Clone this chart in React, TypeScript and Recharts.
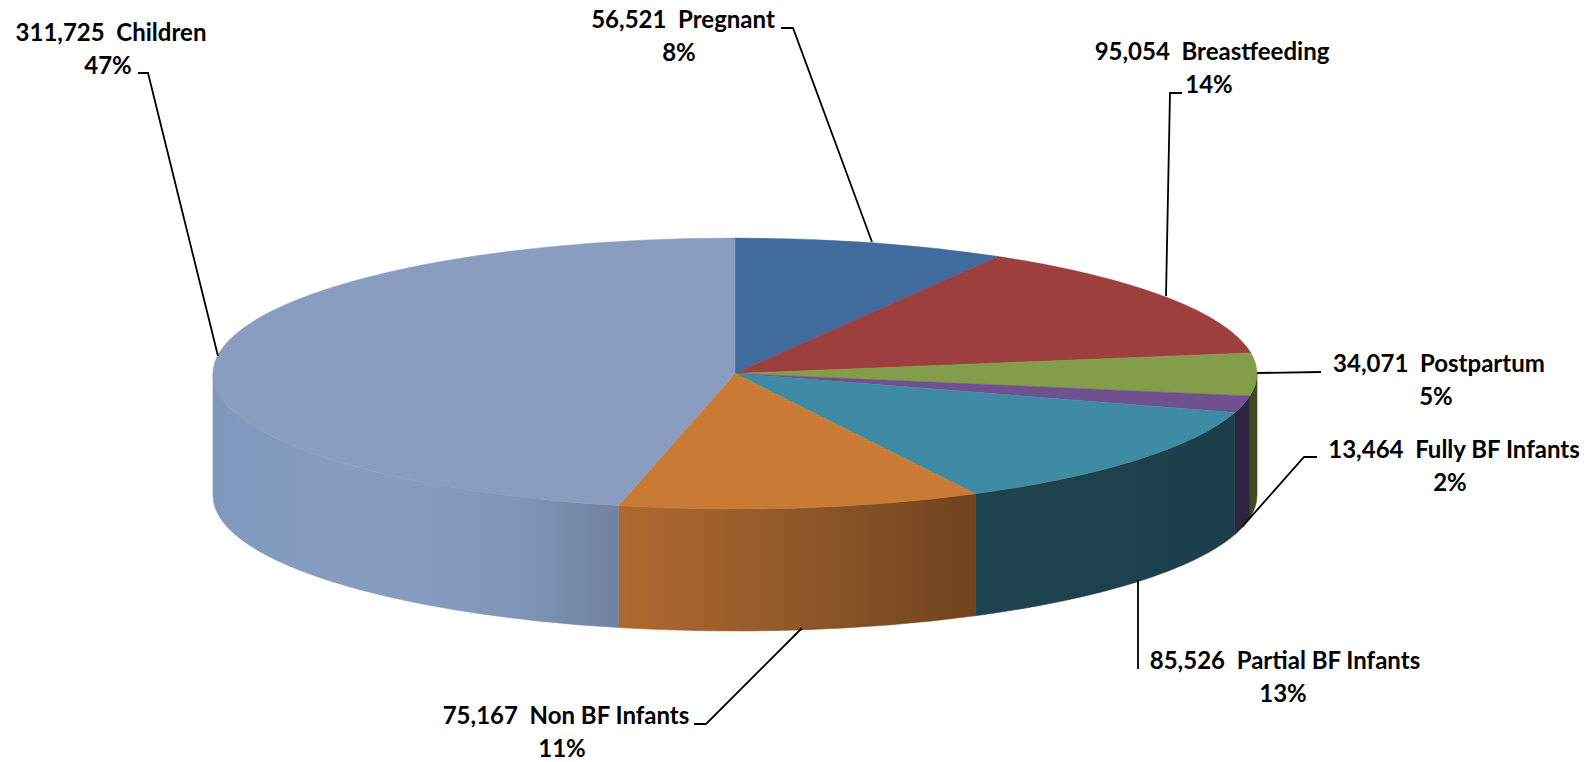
import { Pie, PieChart } from 'recharts';

const categories = ['Pregnant', 'Breastfeeding', 'Postpartum', 'Fully BF Infants', 'Partial BF Infants', 'Non BF Infants', 'Children'];
const participants = [56521, 95054, 34071, 13464, 85526, 75167, 311725];
// printed on the chart, Children is shown as 47%
const percentLabels = ['8%', '14%', '5%', '2%', '13%', '11%', '47%'];

const topColors = ['#416b9c', '#9c3f3e', '#839d4a', '#6f5190', '#3f8ba6', '#c97b36', '#8a9dc1'];
const wallStops = [
  ['#2b4768'],
  ['#682a29'],
  ['#3f4b20'],
  ['#2e2340'],
  ['#1e4450', '#1b3e4a'],
  ['#b0692f', '#8f5829', '#6f431c'],
  ['#7f98bc', '#869cc1', '#869cc1', '#8095b8', '#71829f'],
];

const chartData = categories.map((name, i) => ({ name, value: participants[i] }));

const WIDTH = 1594;
const HEIGHT = 762;
const CX = 735;
const CY = 373.5;
const RX = 522;
const RY = 135.5;
const DEPTH = 122;
const FONT = 'Lato, "Open Sans", sans-serif';

// label placement per slice: text centres, baselines and leader line points
const labelLayout = [
  { x1: 683, y1: 28, x2: 679, y2: 61, line: '781,28 793,28 872,242' },
  { x1: 1212, y1: 60, x2: 1209, y2: 93, line: '1182,93 1170,93 1166,296' },
  { x1: 1439, y1: 372, x2: 1436, y2: 405, line: '1321,372 1257,373' },
  { x1: 1454, y1: 458, x2: 1450, y2: 491, line: '1317,457 1304,457 1242,527' },
  { x1: 1285, y1: 669, x2: 1283, y2: 702, line: '1138,669 1138,580' },
  { x1: 566, y1: 724, x2: 562, y2: 757, line: '694,724 706,724 802,628' },
  { x1: 111, y1: 41, x2: 108, y2: 74, line: '138,73 148,73 218,356' },
];

const rad = (deg: number) => (deg * Math.PI) / 180;
const px = (deg: number) => CX + RX * Math.cos(rad(deg));
const py = (deg: number) => CY - RY * Math.sin(rad(deg));

// the flat top of a slice, squashed to an ellipse
const TopSlice = (props: any) => {
  const { startAngle, endAngle, index } = props;
  const large = Math.abs(startAngle - endAngle) > 180 ? 1 : 0;
  const d = `M${CX},${CY} L${px(startAngle)},${py(startAngle)} A${RX},${RY} 0 ${large} 1 ${px(endAngle)},${py(endAngle)} Z`;
  return <path d={d} fill={topColors[index]} stroke={topColors[index]} strokeWidth={0.5} />;
};

// the side wall, only the front half of the pie can be seen
const WallSlice = (props: any) => {
  const { startAngle, endAngle, index } = props;
  const from = Math.min(startAngle, 0);
  const to = Math.max(endAngle, -180);
  if (from <= to) return <g />;
  const id = `wall-${index}`;
  const stops = wallStops[index];
  const left = px(to);
  const right = px(from);
  const d =
    `M${right},${py(from)} A${RX},${RY} 0 0 1 ${left},${py(to)} ` +
    `L${left},${py(to) + DEPTH} A${RX},${RY} 0 0 0 ${right},${py(from) + DEPTH} Z`;
  return (
    <g>
      <linearGradient id={id} gradientUnits="userSpaceOnUse" x1={left} x2={right} y1={0} y2={0}>
        {stops.map((c, i) => (
          <stop key={i} offset={stops.length > 1 ? i / (stops.length - 1) : 0} stopColor={c} />
        ))}
      </linearGradient>
      <path d={d} fill={`url(#${id})`} stroke={`url(#${id})`} strokeWidth={0.6} />
    </g>
  );
};

const SliceLabel = (props: any) => {
  const { index } = props;
  const pos = labelLayout[index];
  const textStyle = { fontFamily: FONT, fontWeight: 700, fontSize: 24, fill: '#000', whiteSpace: 'pre' } as const;
  return (
    <g>
      <polyline points={pos.line} fill="none" stroke="#000" strokeWidth={1.8} />
      <text x={pos.x1} y={pos.y1} textAnchor="middle" style={textStyle}>
        {`${participants[index].toLocaleString('en-US')}  ${categories[index]}`}
      </text>
      <text x={pos.x2} y={pos.y2} textAnchor="middle" style={textStyle}>
        {percentLabels[index]}
      </text>
    </g>
  );
};

export default function App() {
  return (
    <div style={{ position: 'absolute', left: 0, top: 0, width: WIDTH, height: HEIGHT, background: '#fff' }}>
      <PieChart width={WIDTH} height={HEIGHT} margin={{ top: 0, right: 0, bottom: 0, left: 0 }}>
        <Pie
          data={chartData}
          dataKey="value"
          nameKey="name"
          cx={CX}
          cy={CY}
          outerRadius={RX}
          startAngle={90}
          endAngle={-270}
          stroke="none"
          shape={WallSlice}
          activeShape={WallSlice}
          inactiveShape={WallSlice}
          isAnimationActive={false}
        />
        <Pie
          data={chartData}
          dataKey="value"
          nameKey="name"
          cx={CX}
          cy={CY}
          outerRadius={RX}
          startAngle={90}
          endAngle={-270}
          stroke="none"
          shape={TopSlice}
          activeShape={TopSlice}
          inactiveShape={TopSlice}
          label={SliceLabel}
          labelLine={false}
          isAnimationActive={false}
        />
      </PieChart>
    </div>
  );
}
